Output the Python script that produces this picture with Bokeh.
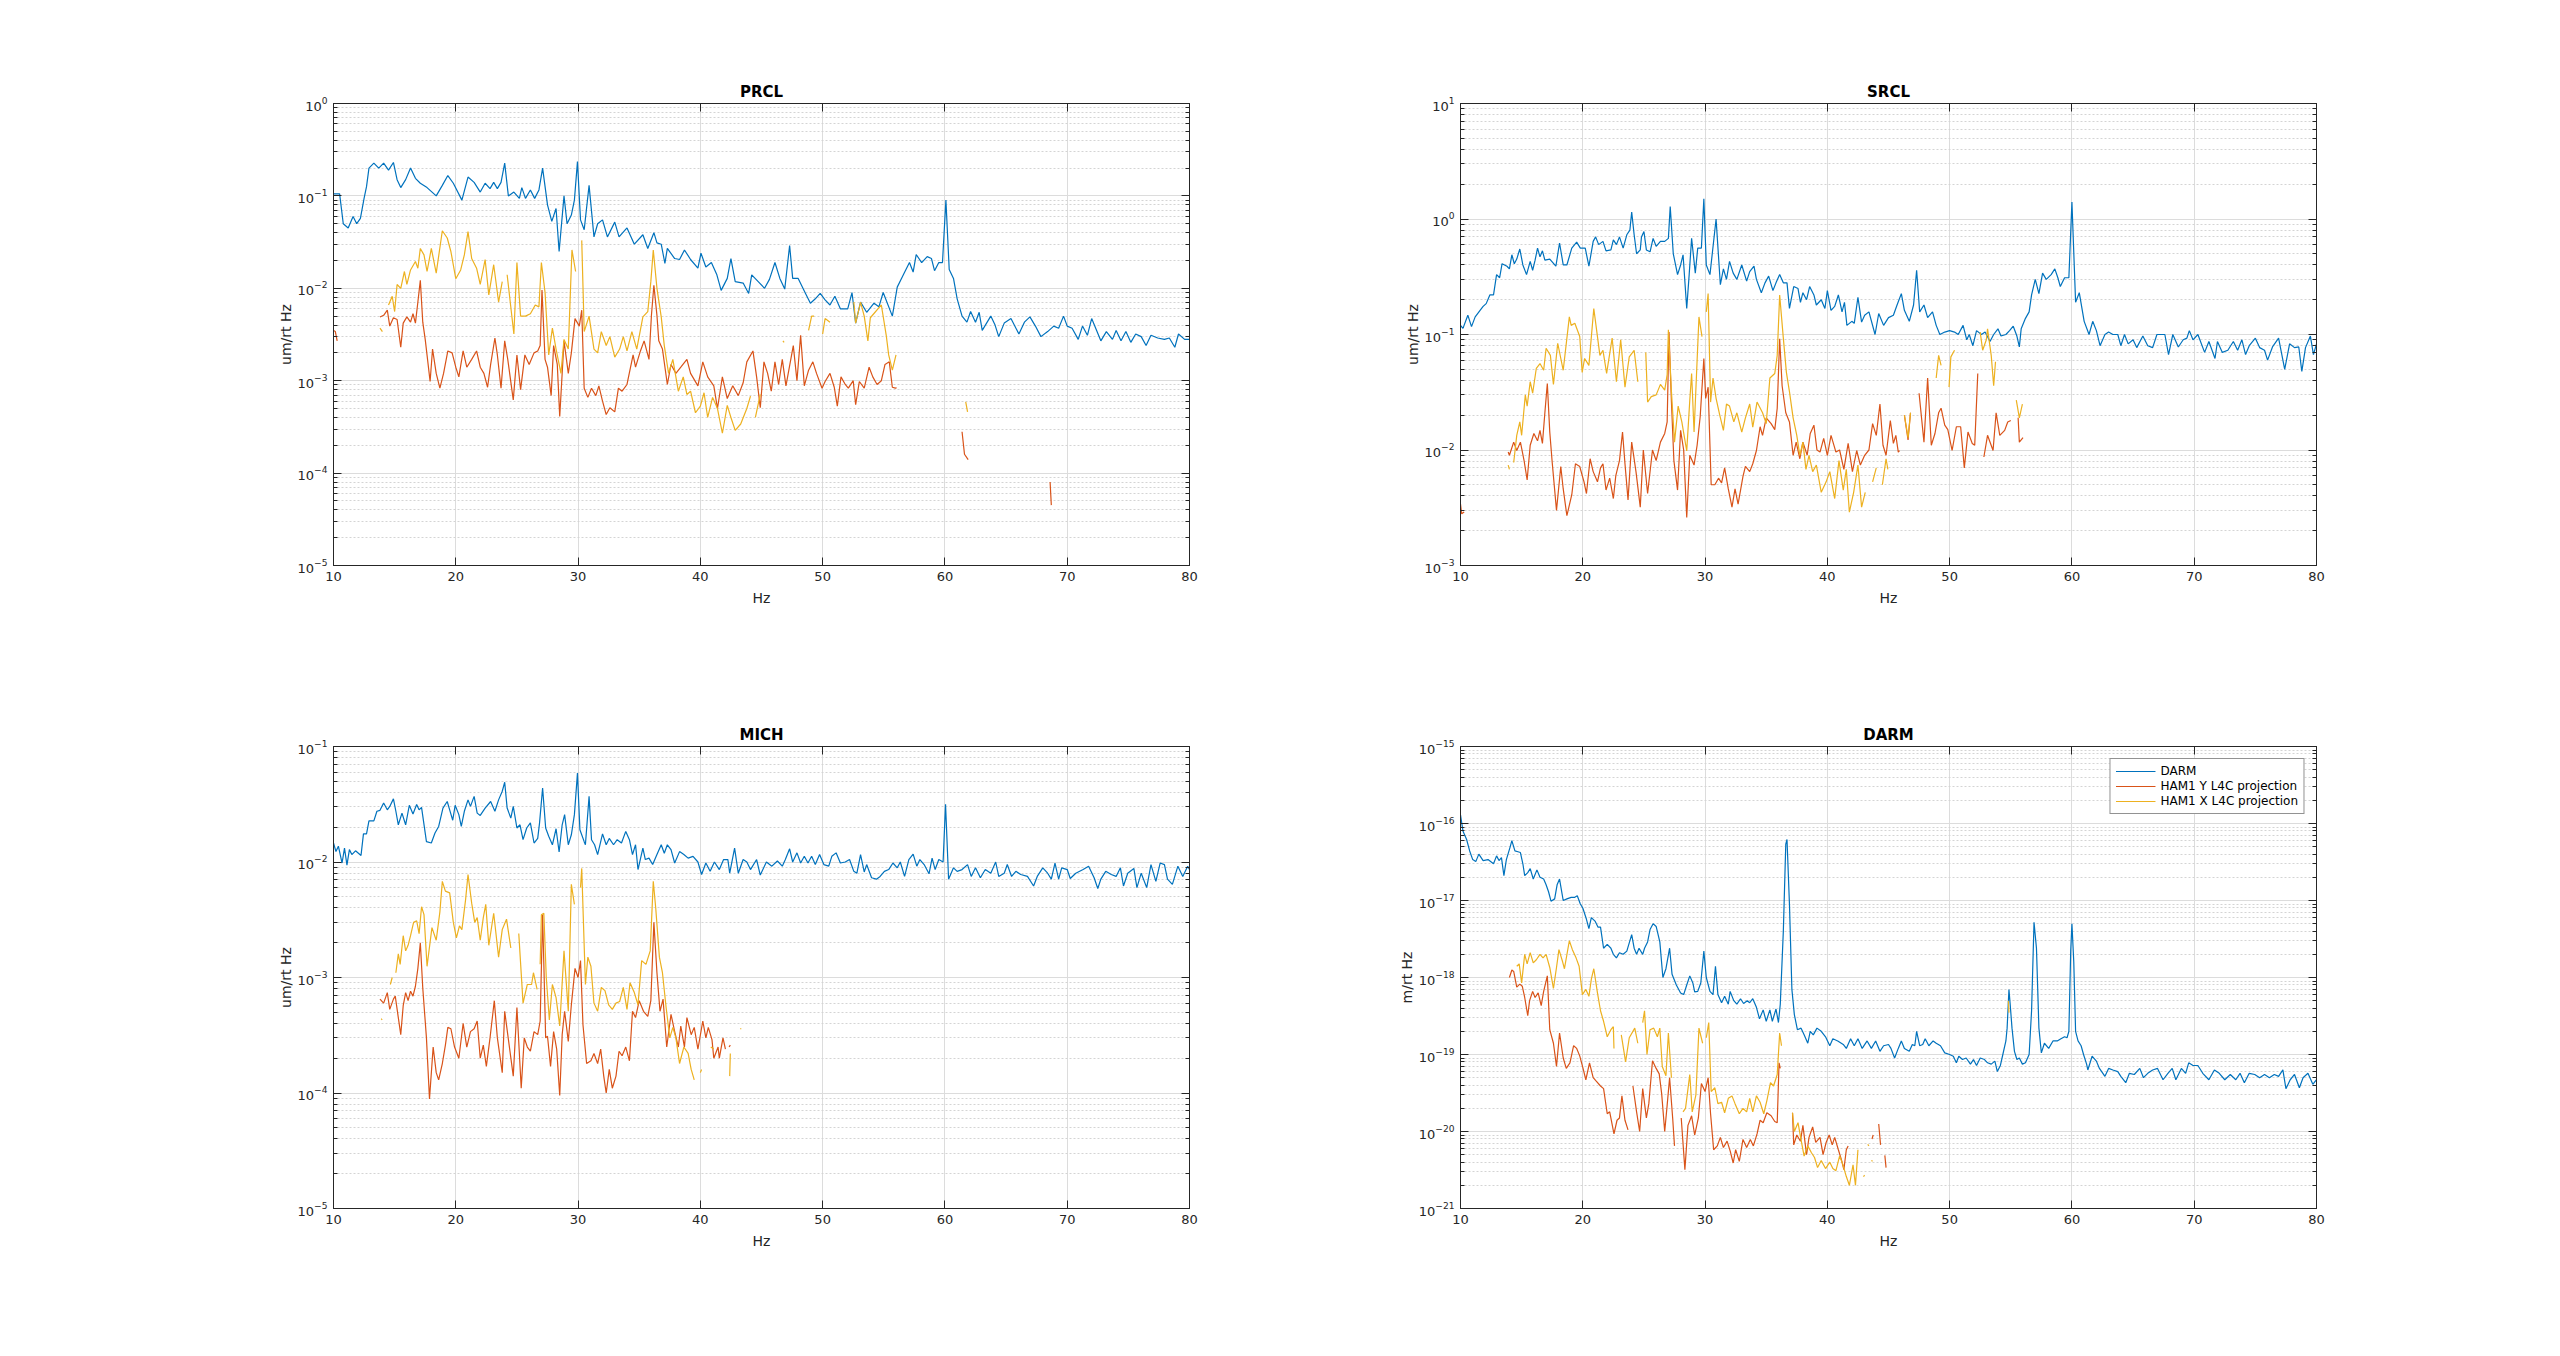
from bokeh.plotting import figure
from bokeh.models import Range1d, FixedTicker, LogTickFormatter, LogAxis, LinearAxis, Legend, LegendItem
from bokeh.layouts import column, row
from bokeh.embed import file_html
from bokeh.resources import INLINE

nan = float("nan")
G = (nan, nan)  # gap marker

# ---------------- data (Hz, amplitude) ----------------
x_tick_hz = [10, 20, 30, 40, 50, 60, 70, 80]
series_names = ["DARM", "HAM1 Y L4C projection", "HAM1 X L4C projection"]
panel_titles = ["PRCL", "SRCL", "MICH", "DARM"]
panel_ylabels = ["um/rt Hz", "um/rt Hz", "um/rt Hz", "m/rt Hz"]
panel_decades = [(-5, 0), (-3, 1), (-5, -1), (-21, -15)]

prcl_darm = [(10.0,0.105),(10.5,0.105),(10.8,0.05),(11.2,0.045),(11.6,0.06),(11.9,0.05),(12.2,0.057),(12.5,0.094),(12.7,0.126),(12.9,0.2),(13.3,0.226),(13.7,0.2),(14.1,0.226),(14.5,0.19),(14.9,0.23),(15.2,0.15),(15.5,0.123),(15.9,0.15),(16.3,0.2),(16.7,0.155),(17.1,0.137),(17.65,0.123),(18.4,0.1),(18.9,0.13),(19.35,0.166),(19.8,0.137),(20.5,0.09),(21.0,0.16),(21.5,0.14),(22.0,0.11),(22.4,0.137),(22.8,0.12),(23.1,0.14),(23.4,0.12),(23.7,0.14),(24.0,0.226),(24.3,0.1),(24.75,0.11),(25.2,0.094),(25.4,0.123),(25.7,0.094),(26.1,0.116),(26.45,0.094),(26.8,0.116),(27.1,0.2),(27.5,0.08),(27.85,0.053),(28.2,0.073),(28.45,0.025),(28.85,0.1),(29.1,0.05),(29.45,0.062),(29.7,0.09),(29.95,0.235),(30.2,0.055),(30.5,0.043),(30.9,0.13),(31.3,0.036),(31.6,0.05),(32.0,0.055),(32.4,0.036),(33.0,0.052),(33.35,0.036),(34.0,0.045),(34.6,0.03),(35.3,0.038),(35.7,0.027),(36.2,0.04),(36.45,0.031),(36.8,0.03),(37.1,0.0186),(37.3,0.027),(37.9,0.021),(38.3,0.0205),(38.7,0.026),(39.2,0.0205),(39.8,0.0165),(40.05,0.024),(40.45,0.017),(40.9,0.019),(41.35,0.014),(41.7,0.0095),(42.2,0.0128),(42.5,0.021),(42.85,0.0118),(43.5,0.0114),(43.95,0.0088),(44.2,0.014),(44.85,0.0114),(45.25,0.01),(45.65,0.0125),(46.1,0.019),(46.5,0.0128),(46.9,0.0098),(47.3,0.029),(47.55,0.0128),(48.0,0.0128),(48.6,0.0088),(49.0,0.0069),(49.4,0.0077),(49.8,0.0088),(50.2,0.0075),(50.6,0.0066),(51.0,0.0082),(51.45,0.006),(52.05,0.006),(52.4,0.009),(52.7,0.0042),(53.1,0.0071),(53.6,0.0055),(54.2,0.0069),(54.6,0.0063),(54.95,0.009),(55.7,0.005),(56.1,0.0103),(56.6,0.014),(57.1,0.019),(57.4,0.015),(57.65,0.0232),(58.1,0.019),(58.55,0.022),(58.9,0.021),(59.15,0.0155),(59.5,0.019),(59.8,0.019),(60.08,0.09),(60.35,0.016),(60.7,0.0128),(61.0,0.0077),(61.4,0.005),(61.8,0.0043),(62.1,0.0056),(62.5,0.0043),(62.8,0.0055),(63.05,0.0035),(63.75,0.005),(64.1,0.004),(64.4,0.003),(64.85,0.0042),(65.4,0.0047),(66.05,0.0032),(66.5,0.0043),(66.95,0.0049),(67.4,0.0039),(67.85,0.003),(68.4,0.0034),(68.9,0.0039),(69.3,0.0037),(69.7,0.005),(70.0,0.0039),(70.4,0.0037),(70.9,0.0028),(71.25,0.0039),(71.65,0.0031),(72.0,0.0047),(72.75,0.0027),(73.2,0.0034),(73.7,0.0028),(74.0,0.0035),(74.4,0.0027),(74.8,0.0034),(75.2,0.0026),(75.6,0.0032),(76.05,0.003),(76.45,0.0024),(76.85,0.0031),(77.4,0.0029),(77.95,0.0028),(78.35,0.0029),(78.8,0.0023),(79.1,0.0032),(79.6,0.0028),(80.0,0.0028)]

prcl_ham1y = [(10.0,0.0035),(10.15,0.0034),(10.3,0.0027),G,(13.8,0.0049),(14.1,0.0051),(14.4,0.0058),(14.6,0.0039),(14.9,0.0048),(15.2,0.0046),(15.5,0.0023),(15.7,0.0042),(16.0,0.0049),(16.3,0.0043),(16.5,0.0053),(16.7,0.0042),(16.9,0.0071),(17.1,0.0122),(17.3,0.0043),(17.5,0.0028),(17.9,0.00098),(18.1,0.0022),(18.4,0.0012),(18.7,0.00083),(19.0,0.0012),(19.35,0.0021),(19.7,0.002),(20.0,0.0014),(20.25,0.0011),(20.6,0.0021),(20.9,0.0014),(21.3,0.0017),(21.7,0.0021),(22.0,0.0014),(22.3,0.0012),(22.6,0.00085),(22.85,0.0015),(23.2,0.0029),(23.4,0.0019),(23.7,0.00083),(24.0,0.0027),(24.25,0.0017),(24.7,0.00062),(25.0,0.0019),(25.3,0.0008),(25.65,0.0019),(26.0,0.0015),(26.4,0.002),(26.7,0.0021),(26.9,0.0024),(27.05,0.0096),(27.3,0.0017),(27.5,0.0014),(27.8,0.00069),(28.0,0.0024),(28.3,0.0015),(28.5,0.00041),(28.85,0.0027),(29.2,0.0012),(29.45,0.002),(29.75,0.0047),(30.1,0.0039),(30.3,0.0058),(30.5,0.00083),(30.8,0.00066),(31.1,0.00083),(31.45,0.00069),(31.7,0.00088),(32.0,0.0006),(32.3,0.00043),(32.6,0.00051),(33.0,0.00046),(33.3,0.00083),(33.6,0.00077),(34.0,0.00091),(34.5,0.0019),(34.7,0.0014),(35.1,0.0021),(35.4,0.0027),(35.8,0.0017),(36.0,0.0051),(36.2,0.0108),(36.45,0.0051),(36.6,0.0027),(36.9,0.0022),(37.3,0.00091),(37.6,0.0015),(38.0,0.0012),(38.4,0.0014),(38.9,0.0017),(39.2,0.0012),(39.8,0.00088),(40.2,0.0016),(40.6,0.0011),(41.1,0.00088),(41.4,0.0005),(41.8,0.0011),(42.2,0.00064),(42.65,0.00088),(43.1,0.00069),(43.5,0.00095),(43.8,0.0016),(44.3,0.0021),(44.6,0.0011),(44.9,0.00051),(45.2,0.0016),(45.5,0.0012),(45.8,0.00077),(46.1,0.0016),(46.4,0.00091),(46.7,0.0017),(47.0,0.00088),(47.6,0.0024),(47.9,0.001),(48.2,0.0031),(48.5,0.00088),(48.85,0.0013),(49.2,0.0016),(49.5,0.0012),(49.95,0.00083),(50.2,0.00098),(50.6,0.0012),(50.95,0.00085),(51.2,0.00053),(51.5,0.0011),(51.85,0.00091),(52.1,0.00083),(52.5,0.001),(52.7,0.00055),(53.0,0.00098),(53.4,0.00083),(53.8,0.0014),(54.1,0.0011),(54.45,0.00091),(54.8,0.001),(55.1,0.0015),(55.45,0.0016),(55.7,0.00085),(55.95,0.00083),(56.05,0.00084),G,(61.4,0.00028),(61.6,0.00016),(61.9,0.00014),G,(68.6,0.00008),(68.7,0.000045)]

prcl_ham1x = [(13.8,0.0037),(14.0,0.0034),G,(14.5,0.0066),(14.8,0.0082),(15.0,0.0056),(15.2,0.011),(15.5,0.01),(15.8,0.0152),(16.0,0.011),(16.3,0.0158),(16.7,0.0195),(16.9,0.0165),(17.1,0.027),(17.4,0.023),(17.65,0.0152),(18.0,0.027),(18.4,0.0146),(18.9,0.042),(19.3,0.035),(19.6,0.025),(20.0,0.0127),(20.4,0.0158),(20.7,0.023),(21.0,0.041),(21.3,0.021),(21.7,0.0165),(22.0,0.011),(22.4,0.0205),(22.7,0.0085),(23.1,0.018),(23.5,0.0071),(23.8,0.0118),G,(24.2,0.014),(24.75,0.0032),(25.0,0.019),(25.3,0.005),(25.7,0.005),(26.1,0.0053),(26.5,0.0066),(26.8,0.0063),(27.0,0.019),(27.3,0.009),(27.6,0.0019),(27.9,0.0037),(28.2,0.0022),(28.6,0.0012),(28.85,0.0028),(29.2,0.0022),(29.5,0.026),(29.8,0.0152),G,(30.3,0.033),(30.5,0.0034),(30.9,0.005),(31.3,0.0022),(31.6,0.002),(31.9,0.0034),(32.3,0.0024),(32.6,0.003),(33.0,0.0018),(33.4,0.0022),(33.7,0.003),(34.0,0.0021),(34.4,0.0034),(34.8,0.0022),(35.3,0.0049),(35.7,0.0056),(35.95,0.0118),(36.15,0.026),(36.45,0.01),(36.8,0.0049),(37.05,0.0024),(37.4,0.0012),(37.75,0.0017),(38.2,0.00077),(38.6,0.0011),(38.9,0.00071),(39.2,0.00077),(39.6,0.00045),(40.0,0.00053),(40.3,0.00074),(40.6,0.0004),(41.0,0.00066),(41.4,0.0005),(41.8,0.00027),(42.2,0.00054),(42.5,0.0004),(42.85,0.00029),(43.3,0.00034),(43.8,0.0005),(44.1,0.00068),G,(44.5,0.0004),(44.9,0.00071),G,(46.75,0.0027),(46.85,0.0026),G,(48.85,0.0035),(49.1,0.005),(49.3,0.005),G,(50.0,0.0032),(50.2,0.0047),(50.6,0.0043),G,(52.55,0.0071),(52.7,0.0042),(53.1,0.0071),(53.4,0.005),(53.7,0.0027),(53.9,0.0048),(54.8,0.0066),(55.2,0.0031),(55.4,0.0019),(55.7,0.0013),(56.0,0.0019),G,(61.7,0.00059),(61.85,0.00046)]

srcl_darm = [(10.0,0.12),(10.2,0.113),(10.6,0.147),(10.9,0.117),(11.2,0.142),(11.6,0.162),(11.85,0.175),(12.1,0.185),(12.4,0.22),(12.7,0.22),(12.95,0.33),(13.2,0.31),(13.4,0.41),(13.8,0.39),(14.0,0.37),(14.2,0.49),(14.4,0.41),(14.6,0.45),(14.85,0.55),(15.1,0.4),(15.4,0.33),(15.7,0.43),(15.9,0.36),(16.1,0.44),(16.3,0.56),(16.5,0.47),(16.7,0.53),(16.9,0.44),(17.3,0.45),(17.8,0.39),(18.1,0.62),(18.4,0.4),(18.7,0.4),(19.1,0.56),(19.5,0.63),(19.8,0.56),(20.2,0.56),(20.5,0.39),(20.85,0.64),(21.05,0.7),(21.3,0.6),(21.65,0.64),(21.9,0.53),(22.3,0.54),(22.5,0.66),(22.75,0.6),(23.0,0.7),(23.3,0.56),(23.6,0.73),(23.85,0.8),(24.0,1.15),(24.2,0.73),(24.4,0.5),(24.7,0.54),(24.8,0.7),(25.0,0.78),(25.2,0.54),(25.5,0.52),(25.75,0.68),(26.0,0.58),(26.35,0.64),(26.7,0.64),(27.0,0.68),(27.15,1.28),(27.4,0.5),(27.75,0.33),(28.0,0.4),(28.2,0.49),(28.5,0.168),(28.7,0.33),(28.9,0.68),(29.2,0.34),(29.4,0.56),(29.7,0.56),(29.9,1.5),(30.1,0.4),(30.4,0.33),(30.9,1.0),(31.25,0.27),(31.5,0.37),(31.75,0.3),(32.0,0.43),(32.3,0.34),(32.6,0.3),(33.0,0.4),(33.4,0.29),(33.65,0.35),(34.0,0.39),(34.2,0.3),(34.6,0.23),(34.9,0.28),(35.2,0.32),(35.55,0.24),(35.8,0.28),(36.1,0.33),(36.4,0.28),(36.7,0.28),(36.9,0.168),(37.25,0.26),(37.6,0.25),(37.8,0.19),(38.0,0.23),(38.3,0.2),(38.55,0.26),(38.9,0.22),(39.1,0.18),(39.5,0.2),(39.8,0.168),(40.0,0.24),(40.3,0.162),(40.6,0.175),(40.9,0.22),(41.2,0.157),(41.4,0.19),(41.6,0.12),(42.0,0.13),(42.2,0.125),(42.5,0.21),(42.8,0.128),(43.05,0.147),(43.4,0.157),(43.9,0.1),(44.2,0.152),(44.6,0.12),(45.0,0.14),(45.4,0.147),(45.7,0.18),(46.05,0.226),(46.3,0.162),(46.7,0.13),(47.05,0.18),(47.3,0.36),(47.55,0.157),(47.9,0.18),(48.2,0.14),(48.6,0.157),(48.9,0.12),(49.2,0.1),(49.6,0.105),(50.0,0.108),(50.4,0.105),(50.7,0.1),(51.1,0.12),(51.4,0.09),(51.6,0.1),(51.9,0.08),(52.2,0.108),(52.6,0.1),(52.9,0.105),(53.3,0.087),(53.6,0.1),(53.95,0.112),(54.2,0.097),(54.6,0.1),(54.9,0.108),(55.2,0.118),(55.5,0.097),(55.7,0.078),(55.85,0.112),(56.2,0.138),(56.5,0.157),(56.7,0.22),(57.0,0.3),(57.3,0.226),(57.6,0.34),(57.9,0.3),(58.3,0.33),(58.6,0.37),(58.85,0.31),(59.05,0.26),(59.4,0.31),(59.75,0.31),(60.0,1.4),(60.3,0.19),(60.6,0.23),(61.0,0.13),(61.4,0.1),(61.7,0.13),(62.0,0.108),(62.3,0.08),(62.7,0.1),(63.0,0.105),(63.35,0.1),(63.75,0.1),(64.0,0.08),(64.3,0.1),(64.6,0.083),(65.0,0.09),(65.3,0.077),(65.8,0.097),(66.2,0.08),(66.6,0.077),(66.95,0.1),(67.3,0.1),(67.6,0.1),(67.9,0.067),(68.25,0.1),(68.7,0.078),(69.1,0.09),(69.4,0.093),(69.6,0.108),(69.9,0.09),(70.3,0.1),(70.85,0.07),(71.2,0.087),(71.7,0.062),(71.9,0.087),(72.3,0.07),(72.75,0.073),(73.2,0.087),(73.55,0.073),(73.9,0.09),(74.2,0.067),(74.5,0.08),(75.0,0.093),(75.35,0.077),(75.75,0.073),(76.0,0.06),(76.4,0.078),(76.9,0.093),(77.4,0.05),(77.8,0.083),(78.2,0.077),(78.55,0.078),(78.8,0.048),(79.1,0.077),(79.5,0.097),(79.75,0.067),(80.0,0.083)]

srcl_ham1y = [(10.0,0.0034),(10.1,0.0028),(10.3,0.0029),G,(13.9,0.0096),(14.0,0.009),(14.35,0.0117),(14.6,0.0099),(14.9,0.0117),(15.2,0.0081),(15.45,0.0055),(15.7,0.011),(16.0,0.0139),(16.3,0.012),(16.5,0.0148),(16.7,0.0114),(16.9,0.021),(17.1,0.0376),(17.3,0.0143),(17.5,0.0078),(17.85,0.003),(18.2,0.0072),(18.4,0.0046),(18.7,0.0027),(19.1,0.0041),(19.4,0.0076),(19.75,0.0072),(20.1,0.0053),(20.3,0.0042),(20.6,0.0084),(20.85,0.0065),(21.2,0.0053),(21.45,0.007),(21.65,0.0076),(21.9,0.0045),(22.2,0.0057),(22.5,0.0038),(22.7,0.006),(23.0,0.0081),(23.25,0.0143),(23.45,0.0076),(23.7,0.0037),(24.0,0.0117),(24.35,0.0065),(24.7,0.0032),(24.95,0.01),(25.3,0.0042),(25.7,0.01),(26.0,0.0081),(26.35,0.0117),(26.7,0.0139),(26.9,0.0175),(27.05,0.105),(27.25,0.026),(27.45,0.0081),(27.75,0.0045),(28.0,0.0148),(28.25,0.01),(28.5,0.0026),(28.75,0.009),(29.1,0.0074),(29.35,0.011),(29.6,0.0194),(29.9,0.062),(30.05,0.028),(30.25,0.035),(30.5,0.005),(30.8,0.005),(31.1,0.0057),(31.35,0.0052),(31.6,0.007),(31.9,0.0046),(32.2,0.0032),(32.45,0.0046),(32.7,0.0034),(33.1,0.0059),(33.3,0.0072),(33.65,0.0065),(33.9,0.0076),(34.2,0.0099),(34.5,0.0159),(34.7,0.0134),(35.0,0.019),(35.4,0.0169),(35.7,0.015),(35.9,0.023),(36.1,0.092),(36.3,0.036),(36.6,0.021),(36.9,0.0175),(37.2,0.009),(37.45,0.0117),(37.75,0.0084),(38.0,0.0117),(38.35,0.009),(38.6,0.0139),(38.9,0.0164),(39.15,0.01),(39.4,0.0096),(39.7,0.0126),(40.0,0.009),(40.3,0.0134),(40.7,0.0096),(41.0,0.01),(41.35,0.0068),(41.7,0.0114),(42.05,0.0065),(42.4,0.0099),(42.7,0.0074),(43.05,0.009),(43.4,0.01),(43.7,0.0169),(44.0,0.0134),(44.3,0.025),(44.55,0.011),(44.8,0.009),(45.15,0.018),(45.4,0.0114),(45.6,0.0134),(45.8,0.0096),(45.9,0.0099),G,(46.3,0.02),(46.6,0.0122),(46.8,0.021),G,(47.5,0.031),(47.9,0.0117),(48.2,0.042),(48.5,0.011),(48.8,0.0139),(49.1,0.021),(49.3,0.023),(49.6,0.0164),(49.85,0.015),(50.2,0.0099),(50.55,0.0159),(50.9,0.0159),(51.2,0.007),(51.5,0.0143),(51.85,0.0114),(52.05,0.011),(52.3,0.046),G,(52.8,0.0087),(53.1,0.0134),(53.55,0.0099),(53.8,0.021),(54.1,0.0134),(54.5,0.0148),(54.75,0.0175),(55.0,0.018),G,(55.6,0.019),(55.7,0.0117),(56.0,0.0128)]

srcl_ham1x = [(13.9,0.0074),(14.0,0.0068),G,(14.35,0.0078),(14.6,0.0134),(14.85,0.0175),(15.0,0.0134),(15.3,0.03),(15.45,0.024),(15.7,0.039),(15.9,0.031),(16.2,0.051),(16.5,0.056),(16.8,0.049),(17.0,0.076),(17.35,0.066),(17.6,0.037),(17.95,0.084),(18.4,0.049),(18.9,0.142),(19.05,0.12),(19.35,0.125),(19.75,0.096),(19.95,0.047),(20.15,0.062),(20.5,0.054),(20.9,0.168),(21.2,0.096),(21.4,0.066),(21.65,0.073),(21.95,0.046),(22.4,0.093),(22.75,0.039),(23.1,0.09),(23.45,0.035),(23.8,0.064),(24.2,0.073),(24.5,0.039),G,(25.15,0.07),(25.3,0.026),(25.6,0.029),(26.0,0.03),(26.35,0.037),(26.7,0.033),(26.9,0.045),(27.0,0.11),(27.25,0.032),(27.5,0.0117),(27.8,0.024),(28.1,0.0175),(28.5,0.0098),(28.75,0.027),(28.9,0.046),(29.1,0.0143),(29.3,0.045),(29.5,0.142),(29.75,0.096),G,(30.1,0.157),(30.25,0.226),(30.45,0.026),(30.65,0.042),(30.9,0.028),(31.2,0.02),(31.5,0.0148),(31.75,0.025),(32.0,0.024),(32.35,0.0175),(32.6,0.021),(33.0,0.0143),(33.3,0.019),(33.65,0.025),(33.9,0.0158),(34.25,0.026),(34.7,0.021),(35.0,0.0169),(35.3,0.042),(35.7,0.046),(35.9,0.066),(36.1,0.22),(36.4,0.093),(36.65,0.047),(36.9,0.032),(37.2,0.019),(37.5,0.0134),(37.75,0.009),(38.0,0.0117),(38.25,0.0068),(38.5,0.009),(38.8,0.0065),(39.1,0.0074),(39.5,0.0043),(39.9,0.0053),(40.2,0.0065),(40.6,0.0038),(40.95,0.0081),(41.3,0.0045),(41.55,0.0068),(41.8,0.0029),(42.15,0.0043),(42.5,0.0074),(42.8,0.0032),(43.1,0.0043),G,(43.7,0.0053),(44.0,0.007),G,(44.5,0.005),(44.8,0.0084),(44.95,0.0068),G,(46.3,0.02),(46.6,0.0128),(46.8,0.021),G,(48.9,0.042),(49.1,0.066),(49.3,0.054),G,(49.95,0.035),(50.1,0.064),(50.4,0.073),G,(52.5,0.105),(52.7,0.073),(53.0,0.09),(53.1,0.112),(53.4,0.066),(53.6,0.036),(53.75,0.058),G,(55.45,0.027),(55.7,0.019),(55.95,0.025)]

mich_darm = [(10.0,0.0146),(10.2,0.0123),(10.4,0.0137),(10.7,0.0098),(10.9,0.0132),(11.1,0.0094),(11.3,0.0128),(11.5,0.0116),(11.8,0.0125),(12.25,0.0114),(12.45,0.0175),(12.7,0.0175),(12.9,0.0227),(13.3,0.0227),(13.55,0.0275),(13.8,0.028),(14.1,0.0324),(14.4,0.0283),(14.6,0.0303),(14.9,0.0352),(15.1,0.0275),(15.3,0.021),(15.6,0.0265),(15.9,0.021),(16.2,0.031),(16.5,0.026),(16.8,0.0315),(17.0,0.0283),(17.2,0.0297),(17.6,0.015),(18.0,0.0146),(18.3,0.0178),(18.6,0.0203),(18.95,0.0293),(19.3,0.0334),(19.5,0.0283),(19.75,0.023),(19.95,0.031),(20.25,0.0257),(20.45,0.0203),(20.7,0.0275),(21.0,0.0345),(21.2,0.0303),(21.5,0.037),(21.75,0.0265),(22.0,0.0253),(22.4,0.0293),(22.85,0.0334),(23.2,0.0275),(23.5,0.0345),(23.8,0.041),(24.0,0.049),(24.2,0.0293),(24.5,0.024),(24.7,0.0303),(25.0,0.0197),(25.25,0.021),(25.5,0.0156),(25.8,0.0197),(26.1,0.0218),(26.4,0.0146),(26.7,0.016),(26.85,0.0218),(27.1,0.0437),(27.35,0.0197),(27.6,0.0167),(27.9,0.0141),(28.2,0.0194),(28.45,0.0122),(28.7,0.021),(28.9,0.0257),(29.2,0.0141),(29.45,0.0172),(29.7,0.0257),(29.95,0.0588),(30.15,0.019),(30.5,0.015),(30.6,0.0141),(30.9,0.037),(31.1,0.0156),(31.35,0.0141),(31.6,0.0116),(32.0,0.0175),(32.3,0.0141),(32.55,0.016),(32.9,0.0141),(33.2,0.0156),(33.55,0.0146),(33.9,0.0184),(34.2,0.0156),(34.45,0.0116),(34.7,0.0141),(34.9,0.0086),(35.3,0.0132),(35.5,0.0105),(35.8,0.0108),(36.1,0.0095),(36.45,0.0116),(36.8,0.0141),(37.05,0.0119),(37.3,0.0141),(37.6,0.0128),(37.9,0.0098),(38.3,0.0123),(38.65,0.0116),(39.0,0.0108),(39.4,0.0112),(39.8,0.01),(40.1,0.0078),(40.45,0.0098),(40.8,0.0083),(41.15,0.01),(41.55,0.0086),(41.9,0.0105),(42.25,0.0105),(42.4,0.008),(42.8,0.0132),(43.1,0.008),(43.5,0.0105),(43.8,0.01),(44.1,0.0086),(44.6,0.0105),(44.9,0.0077),(45.4,0.01),(45.85,0.0092),(46.3,0.0102),(46.7,0.0092),(46.95,0.0105),(47.3,0.013),(47.55,0.01),(47.9,0.012),(48.2,0.0098),(48.5,0.0112),(48.8,0.0098),(49.1,0.0112),(49.4,0.0095),(49.75,0.0116),(50.1,0.0095),(50.5,0.0092),(50.75,0.0112),(51.1,0.012),(51.45,0.0098),(51.85,0.01),(52.2,0.0105),(52.55,0.0083),(52.8,0.008),(53.1,0.0116),(53.4,0.0082),(53.6,0.0095),(54.0,0.0073),(54.4,0.0071),(54.7,0.0075),(55.05,0.0083),(55.4,0.0086),(55.75,0.0098),(56.1,0.0089),(56.35,0.01),(56.7,0.0075),(57.05,0.0105),(57.4,0.0117),(57.7,0.0092),(57.95,0.0105),(58.3,0.0095),(58.7,0.0079),(58.95,0.0108),(59.2,0.0086),(59.5,0.0105),(59.85,0.01),(60.05,0.0316),(60.3,0.0071),(60.7,0.0089),(61.0,0.0083),(61.4,0.0086),(61.85,0.0095),(62.15,0.0075),(62.5,0.0089),(62.9,0.0073),(63.3,0.0086),(63.75,0.008),(64.15,0.01),(64.4,0.0075),(64.85,0.008),(65.1,0.0095),(65.45,0.0075),(65.8,0.0083),(66.2,0.0078),(66.75,0.0075),(67.25,0.0062),(67.55,0.0075),(68.0,0.0089),(68.4,0.008),(68.7,0.0071),(69.0,0.0098),(69.3,0.0071),(69.55,0.0089),(70.0,0.0086),(70.25,0.0072),(70.7,0.008),(71.3,0.0086),(71.75,0.0092),(72.2,0.0073),(72.5,0.0059),(72.75,0.0071),(73.15,0.0083),(73.6,0.0078),(74.0,0.0075),(74.35,0.0089),(74.6,0.0062),(74.95,0.008),(75.45,0.0088),(75.7,0.006),(76.05,0.008),(76.5,0.006),(76.85,0.0095),(77.25,0.0068),(77.6,0.0098),(77.95,0.0095),(78.2,0.0071),(78.6,0.0064),(79.05,0.0092),(79.45,0.0075),(79.85,0.0092),(80.0,0.0086)]

mich_ham1y = [(13.8,0.00065),(14.1,0.0006),(14.4,0.00074),(14.6,0.00053),(14.9,0.00065),(15.05,0.00069),(15.3,0.00045),(15.5,0.00032),(15.7,0.00057),(15.9,0.00074),(16.1,0.00063),(16.3,0.00076),(16.5,0.00069),(16.7,0.00084),(16.9,0.0012),(17.1,0.002),(17.3,0.00081),(17.6,0.0003),(17.85,0.000089),(18.15,0.00025),(18.4,0.00015),(18.6,0.00013),(18.9,0.00018),(19.15,0.00026),(19.35,0.00037),(19.6,0.00036),(19.9,0.00025),(20.25,0.0002),(20.6,0.0004),(20.9,0.00025),(21.2,0.00034),(21.5,0.00036),(21.75,0.00042),(22.0,0.0002),(22.25,0.00026),(22.5,0.00017),(22.8,0.0003),(23.15,0.00063),(23.4,0.0003),(23.8,0.00015),(24.0,0.00051),(24.25,0.00032),(24.7,0.00014),(25.0,0.00055),(25.35,0.00011),(25.6,0.0003),(25.85,0.00025),(26.1,0.00023),(26.4,0.00034),(26.7,0.00032),(26.9,0.00042),(27.1,0.0035),(27.35,0.0003),(27.5,0.00031),(27.75,0.00017),(28.0,0.00034),(28.25,0.00024),(28.5,0.000095),(28.7,0.00032),(28.9,0.00051),(29.2,0.00028),(29.45,0.00058),(29.75,0.0012),(30.0,0.001),(30.2,0.0014),(30.4,0.00039),(30.7,0.00018),(31.05,0.00019),(31.3,0.00022),(31.6,0.00018),(31.85,0.00024),(32.1,0.00014),(32.3,0.0001),(32.55,0.00016),(32.8,0.00011),(33.1,0.00014),(33.35,0.00023),(33.6,0.00021),(33.9,0.00025),(34.2,0.00019),(34.45,0.00051),(34.7,0.00045),(35.0,0.00063),(35.35,0.00051),(35.7,0.00046),(35.95,0.00063),(36.2,0.003),(36.45,0.0011),(36.7,0.00051),(36.95,0.00065),(37.25,0.00025),(37.6,0.00048),(37.9,0.00034),(38.2,0.00025),(38.4,0.00038),(38.7,0.00025),(38.9,0.00045),(39.25,0.00032),(39.5,0.00037),(39.8,0.00024),(40.2,0.00042),(40.45,0.0003),(40.65,0.00037),(40.95,0.00029),(41.1,0.0002),(41.45,0.00025),(41.55,0.0002),(41.85,0.0003),(42.05,0.00024),G,(42.35,0.00025),(42.45,0.00026)]

mich_ham1x = [(13.9,0.00044),(13.98,0.00043),G,(14.65,0.00087),(14.8,0.001),G,(15.1,0.0011),(15.3,0.0016),(15.45,0.0013),(15.7,0.0023),(15.9,0.0017),(16.1,0.0019),(16.3,0.0023),(16.55,0.003),(16.8,0.0031),(17.0,0.0024),(17.2,0.0041),(17.4,0.0035),(17.65,0.00125),(18.05,0.0027),(18.4,0.0021),(18.7,0.0037),(18.9,0.0068),(19.15,0.0056),(19.5,0.0054),(19.8,0.003),(20.05,0.0022),(20.3,0.0028),(20.5,0.0026),(20.8,0.0047),(21.0,0.0078),(21.3,0.0044),(21.55,0.003),(21.75,0.0033),(22.0,0.0021),(22.25,0.0033),(22.45,0.0043),(22.7,0.0019),(23.1,0.0036),(23.5,0.0015),(23.8,0.0026),(24.15,0.0032),(24.5,0.0018),G,(25.15,0.0024),(25.5,0.0006),(25.85,0.00087),(26.2,0.00087),(26.35,0.0011),(26.65,0.00079),G,(26.9,0.0013),(27.0,0.0035),(27.2,0.0036),(27.4,0.001),(27.65,0.00043),(27.9,0.00087),(28.2,0.00067),(28.5,0.00038),(28.85,0.0017),(29.2,0.00051),(29.45,0.0064),(29.7,0.0043),G,(30.2,0.006),(30.3,0.0088),(30.6,0.00087),(30.8,0.0015),(31.05,0.00125),(31.3,0.0006),(31.6,0.00051),(31.9,0.00082),(32.2,0.00077),(32.5,0.00058),(32.8,0.00053),(33.1,0.0006),(33.4,0.00062),(33.7,0.00082),(34.0,0.00053),(34.25,0.0009),(34.6,0.00074),(34.9,0.00058),(35.2,0.0014),(35.55,0.0013),(35.9,0.0017),(36.15,0.0068),(36.35,0.004),(36.65,0.0015),(36.9,0.0011),(37.2,0.00055),(37.5,0.0003),(37.75,0.00037),(38.0,0.0003),(38.3,0.00018),(38.65,0.00025),(39.0,0.00022),(39.25,0.00016),(39.5,0.00013),G,(40.0,0.00015),(40.1,0.00016),G,(40.85,0.00025),(41.1,0.00024),G,(42.4,0.00014),(42.45,0.00022),G,(43.25,0.00036),(43.35,0.00036)]

darm_darm = [(10.0,1.3e-16),(10.2,8e-17),(10.5,6.2e-17),(10.75,4.4e-17),(11.0,3.4e-17),(11.25,3.2e-17),(11.5,4e-17),(11.85,3.3e-17),(12.25,3.4e-17),(12.7,3e-17),(12.95,3.8e-17),(13.15,3.3e-17),(13.35,3.6e-17),(13.55,2.1e-17),(13.75,3.4e-17),(14.05,4.9e-17),(14.2,6e-17),(14.45,4.4e-17),(14.7,4.3e-17),(14.9,4.2e-17),(15.1,3e-17),(15.25,2.1e-17),(15.5,2.3e-17),(15.7,2.6e-17),(15.95,1.9e-17),(16.25,2.5e-17),(16.5,2e-17),(16.8,1.9e-17),(17.0,1.6e-17),(17.2,1.3e-17),(17.4,9.8e-18),(17.7,1.05e-17),(17.9,1.6e-17),(18.1,1.9e-17),(18.4,1e-17),(18.7,1.05e-17),(19.05,1.1e-17),(19.35,1.1e-17),(19.55,1.15e-17),(19.8,9e-18),(20.0,8e-18),(20.3,5.7e-18),(20.5,4.3e-18),(20.7,6e-18),(21.0,5.4e-18),(21.25,4.5e-18),(21.45,4.5e-18),(21.7,2.4e-18),(22.0,2.7e-18),(22.3,2.4e-18),(22.5,2e-18),(22.75,1.8e-18),(23.0,2.1e-18),(23.3,2e-18),(23.6,2.2e-18),(24.0,3.6e-18),(24.2,2.4e-18),(24.4,2e-18),(24.6,2.4e-18),(24.9,2e-18),(25.05,2.4e-18),(25.3,2.9e-18),(25.5,4.2e-18),(25.75,5e-18),(26.0,4.6e-18),(26.3,2.9e-18),(26.55,1e-18),(26.8,1.3e-18),(27.1,2.4e-18),(27.3,1.1e-18),(27.65,8e-19),(28.0,6.3e-19),(28.25,6e-19),(28.5,8e-19),(28.75,1.05e-18),(29.0,8.5e-19),(29.15,6.5e-19),(29.4,6.6e-19),(29.65,8.5e-19),(29.9,2.2e-18),(30.1,1e-18),(30.4,6.6e-19),(30.65,6e-19),(30.85,1.4e-18),(31.05,6e-19),(31.35,4.7e-19),(31.6,5.7e-19),(31.9,4.5e-19),(32.05,6.6e-19),(32.35,5e-19),(32.6,4.5e-19),(32.9,5.3e-19),(33.15,4.6e-19),(33.45,5e-19),(33.65,4.7e-19),(33.9,5.3e-19),(34.2,4.1e-19),(34.45,2.9e-19),(34.75,3.8e-19),(35.0,2.7e-19),(35.3,3.8e-19),(35.5,2.7e-19),(35.8,3.9e-19),(36.0,2.6e-19),(36.15,4.5e-19),(36.4,4e-18),(36.6,5.4e-17),(36.7,6.2e-17),(36.9,9e-18),(37.1,7e-19),(37.3,3.3e-19),(37.55,2.1e-19),(37.85,2.2e-19),(38.1,1.8e-19),(38.4,1.4e-19),(38.6,2e-19),(38.85,1.8e-19),(39.15,2.2e-19),(39.5,2e-19),(39.85,1.7e-19),(40.2,1.3e-19),(40.45,1.6e-19),(40.85,1.5e-19),(41.3,1.35e-19),(41.55,1.2e-19),(41.9,1.6e-19),(42.2,1.3e-19),(42.5,1.6e-19),(42.85,1.2e-19),(43.25,1.5e-19),(43.6,1.2e-19),(43.95,1.5e-19),(44.3,1.1e-19),(44.6,1.3e-19),(45.0,1.35e-19),(45.2,1.2e-19),(45.5,9e-20),(45.8,1.2e-19),(46.05,1.5e-19),(46.3,1.2e-19),(46.7,1.1e-19),(46.95,1.35e-19),(47.15,1.3e-19),(47.3,2e-19),(47.55,1.3e-19),(47.8,1.35e-19),(48.0,1.6e-19),(48.3,1.3e-19),(48.65,1.5e-19),(48.9,1.4e-19),(49.25,1.3e-19),(49.6,1.05e-19),(50.0,1e-19),(50.3,9.5e-20),(50.55,7.8e-20),(50.75,9.5e-20),(51.05,8.6e-20),(51.35,9e-20),(51.7,7.5e-20),(51.95,8.6e-20),(52.2,7.2e-20),(52.5,9e-20),(52.85,8.6e-20),(53.1,7.8e-20),(53.4,7.5e-20),(53.7,8.2e-20),(53.9,6e-20),(54.15,7.2e-20),(54.35,1e-19),(54.6,1.5e-19),(54.7,2.2e-19),(54.85,7e-19),(54.95,4.5e-19),(55.1,2.2e-19),(55.3,1.1e-19),(55.5,8.6e-20),(55.7,9e-20),(55.95,7.5e-20),(56.2,7.8e-20),(56.5,1e-19),(56.7,3.7e-19),(56.9,5.2e-18),(57.1,2.4e-18),(57.3,2.2e-19),(57.5,1.05e-19),(57.75,1.4e-19),(58.1,1.2e-19),(58.45,1.5e-19),(58.8,1.5e-19),(59.1,1.6e-19),(59.4,1.7e-19),(59.6,1.65e-19),(59.75,2e-19),(59.9,2.2e-18),(60.0,5e-18),(60.15,1.6e-18),(60.3,2e-19),(60.5,1.5e-19),(60.75,1.3e-19),(60.95,1e-19),(61.2,7.5e-20),(61.3,6.3e-20),(61.65,9.5e-20),(62.0,8.2e-20),(62.25,6.6e-20),(62.7,5.2e-20),(63.0,6.6e-20),(63.35,6.3e-20),(63.75,6e-20),(64.0,5.2e-20),(64.4,4.3e-20),(64.7,5.7e-20),(65.1,5.5e-20),(65.55,6.6e-20),(65.85,5e-20),(66.2,5.7e-20),(66.6,6.3e-20),(67.0,6.6e-20),(67.45,4.7e-20),(67.85,5.7e-20),(68.2,6.6e-20),(68.5,4.7e-20),(68.95,6.6e-20),(69.3,5.7e-20),(69.55,7.8e-20),(69.9,7.2e-20),(70.3,7.2e-20),(70.7,5.7e-20),(71.2,4.7e-20),(71.65,6.3e-20),(72.05,5.7e-20),(72.5,4.7e-20),(72.95,5.5e-20),(73.4,4.7e-20),(73.75,5.7e-20),(74.1,4.3e-20),(74.5,5.7e-20),(74.95,5.5e-20),(75.35,5e-20),(75.75,5.5e-20),(76.15,5e-20),(76.55,5.5e-20),(76.9,5.2e-20),(77.25,6.3e-20),(77.5,3.6e-20),(77.85,4.7e-20),(78.2,5.5e-20),(78.6,3.7e-20),(78.9,5e-20),(79.3,5.7e-20),(79.7,4.1e-20),(80.0,4.7e-20)]

darm_ham1y = [(14.0,1e-18),(14.2,1.25e-18),(14.35,1.2e-18),(14.6,7.5e-19),(14.85,8.2e-19),(15.05,7.7e-19),(15.25,5.5e-19),(15.5,3.2e-19),(15.65,5e-19),(15.9,6.6e-19),(16.1,5.5e-19),(16.35,6.3e-19),(16.6,4.3e-19),(16.8,6.6e-19),(17.1,1.05e-18),(17.3,2.1e-19),(17.6,1.4e-19),(17.85,7e-20),(18.1,1.9e-19),(18.4,9e-20),(18.65,6.6e-20),(18.95,7.8e-20),(19.25,1.3e-19),(19.5,1.2e-19),(19.75,9.6e-20),(20.0,6.8e-20),(20.25,4.7e-20),(20.55,7.8e-20),(20.85,5e-20),(21.1,4.5e-20),(21.45,3.9e-20),(21.7,3.6e-20),(22.0,1.7e-20),(22.2,1.8e-20),(22.55,9.3e-21),(22.8,1.4e-20),(23.0,1.5e-20),(23.2,2.9e-20),(23.45,1.4e-20),(23.7,1.05e-20),G,(24.1,3.9e-20),(24.4,1.8e-20),(24.65,1e-20),(24.9,3.6e-20),(25.2,1.5e-20),(25.4,2.3e-20),(25.7,8.3e-20),(26.0,6.6e-20),(26.25,5.6e-20),(26.45,3.1e-20),(26.7,1e-20),(26.9,2.2e-20),(27.1,5e-20),(27.35,1.5e-20),(27.5,6.5e-21),G,(28.05,1.5e-20),(28.35,3.2e-21),(28.6,1.2e-20),(28.9,1.6e-20),(29.15,9e-21),(29.45,1.5e-20),(29.7,4.2e-20),(30.0,3.3e-20),(30.25,5e-20),(30.45,1.7e-20),(30.7,5.8e-21),(31.0,6.5e-21),(31.25,8.4e-21),(31.5,6.2e-21),(31.8,7.5e-21),(32.05,5.6e-21),(32.3,3.9e-21),(32.5,5.8e-21),(32.8,4.1e-21),(33.1,7.9e-21),(33.4,6.2e-21),(33.7,7.9e-21),(33.95,6.5e-21),(34.25,9.3e-21),(34.5,1.4e-20),(34.75,1.3e-20),(35.05,1.75e-20),(35.4,1.6e-20),(35.7,1.35e-20),(35.9,1.3e-20),(36.05,7.8e-20),(36.15,6.6e-20),G,(37.15,1.75e-20),(37.25,6.7e-21),(37.5,9e-21),(37.8,7.5e-21),(38.0,1.2e-20),(38.3,5e-21),(38.5,8.4e-21),(38.8,1.15e-20),(39.05,7.2e-21),(39.4,8.4e-21),(39.65,5e-21),(39.9,7.2e-21),(40.15,9e-21),(40.4,6.7e-21),(40.6,8.4e-21),(40.9,5.8e-21),(41.15,4.3e-21),(41.35,3.2e-21),(41.55,5.8e-21),(41.7,6.5e-21),G,(43.65,8e-21),(43.75,9e-21),G,(44.2,1.25e-20),(44.35,6.7e-21),G,(44.7,4.9e-21),(44.8,3.4e-21)]

darm_ham1x = [(14.6,1.4e-18),(14.8,1.5e-18),(15.0,8.5e-19),(15.25,2e-18),(15.45,1.5e-18),(15.7,2.1e-18),(15.95,1.55e-18),(16.2,1.7e-18),(16.5,2e-18),(16.75,1.8e-18),(17.0,2e-18),(17.3,1.35e-18),(17.6,7.2e-19),(17.85,1.35e-18),(18.05,2.3e-18),(18.35,1.6e-18),(18.5,1.3e-18),(18.9,3e-18),(19.15,2.3e-18),(19.45,1.8e-18),(19.7,1.4e-18),(19.97,6e-19),(20.25,7e-19),(20.5,5.7e-19),(20.7,9.5e-19),(20.9,1.3e-18),(21.2,6.3e-19),(21.45,3.7e-19),(21.7,2.7e-19),(22.0,1.7e-19),(22.3,2.1e-19),(22.5,2.3e-19),(22.55,1.2e-19),G,(23.15,1.8e-19),(23.5,8e-20),(23.8,1.65e-19),(24.25,2.2e-19),(24.5,1.4e-19),G,(24.9,2.6e-19),(25.05,3.7e-19),(25.25,1e-19),(25.5,2.1e-19),(25.8,2.2e-19),(26.1,1.7e-19),(26.3,2.2e-19),(26.5,7e-20),(26.8,5.3e-20),(27.0,1.9e-19),(27.25,5e-20),G,(28.2,1.8e-20),(28.4,2e-20),(28.75,5.5e-20),(28.95,1.8e-20),(29.25,3e-20),(29.5,2.2e-19),(29.8,1.4e-19),G,(30.1,1.65e-19),(30.3,2.6e-19),(30.5,3.3e-20),(30.8,3.7e-20),(31.05,2.3e-20),(31.35,2.4e-20),(31.6,1.75e-20),(31.9,2.7e-20),(32.2,2.9e-20),(32.45,2.3e-20),(32.8,1.7e-20),(33.1,2e-20),(33.4,1.8e-20),(33.65,2.7e-20),(33.9,1.8e-20),(34.2,2.9e-20),(34.5,2.4e-20),(34.8,1.7e-20),(35.05,2.5e-20),(35.35,4.3e-20),(35.6,3.9e-20),(35.9,5.5e-20),(36.1,1.9e-19),(36.25,1.3e-19),G,(37.15,1.75e-20),(37.3,1e-20),(37.6,1.3e-20),(37.85,7.8e-21),(38.1,4.8e-21),(38.4,6.5e-21),(38.7,5.3e-21),(38.95,4.6e-21),(39.2,3.4e-21),(39.5,4.2e-21),(39.85,3.3e-21),(40.2,4e-21),(40.45,3.3e-21),(40.7,3.1e-21),(41.0,4.8e-21),(41.25,3.8e-21),(41.55,2.6e-21),(41.8,2e-21),(42.1,3.7e-21),(42.3,2e-21),(42.5,5.8e-21),G,(42.95,2.6e-21),(43.05,2.7e-21),G,(43.3,6.8e-21),(43.4,6.5e-21),G,(43.6,4.2e-21),(43.7,4.1e-21),G,(54.8,5e-19),(54.85,3.5e-19)]

panel_series = [
    (prcl_darm, prcl_ham1y, prcl_ham1x),
    (srcl_darm, srcl_ham1y, srcl_ham1x),
    (mich_darm, mich_ham1y, mich_ham1x),
    (darm_darm, darm_ham1y, darm_ham1x),
]

# ---------------- styling ----------------
COLORS = ["#0072BD", "#D95319", "#EDB120"]
AX = "#262626"
FONT = "DejaVu Sans"
FW, FH = 856, 462


def style_axis(ax, labels=True):
    ax.axis_line_color = AX
    ax.major_tick_line_color = AX
    ax.minor_tick_line_color = AX
    ax.major_tick_in = 8
    ax.major_tick_out = 0
    ax.minor_tick_in = 4
    ax.minor_tick_out = 0
    ax.major_label_text_font = FONT
    ax.major_label_standoff = 6
    ax.major_label_text_font_size = "13px"
    if labels:
        ax.major_label_text_color = AX
    else:
        ax.major_label_text_color = None
        ax.major_label_text_font_size = "2px"
        ax.major_label_standoff = 0


def make_panel(idx, mb_left, mb_top, legend=False):
    lo, hi = panel_decades[idx]
    y_major = [10.0 ** e for e in range(lo, hi + 1)]
    y_minor = [k * 10.0 ** e for e in range(lo, hi) for k in range(2, 10)]
    p = figure(frame_width=FW, frame_height=FH,
               x_range=Range1d(10, 80), y_range=Range1d(10.0 ** lo, 10.0 ** hi),
               y_axis_type="log", output_backend="svg", toolbar_location=None,
               min_border_left=mb_left, min_border_right=20,
               min_border_top=mb_top, min_border_bottom=90,
               background_fill_color="white", border_fill_color="white")
    xt = FixedTicker(ticks=x_tick_hz)
    yt = FixedTicker(ticks=y_major, minor_ticks=y_minor)
    p.xaxis.ticker = xt
    p.yaxis.ticker = yt
    p.yaxis.formatter = LogTickFormatter()
    p.xgrid.ticker = xt
    p.ygrid.ticker = yt
    style_axis(p.xaxis[0])
    style_axis(p.yaxis[0])
    p.xaxis.minor_tick_line_color = None
    p.xaxis.axis_label = "Hz"
    p.yaxis.axis_label = panel_ylabels[idx]
    for ax in (p.xaxis[0], p.yaxis[0]):
        ax.axis_label_text_font = FONT
        ax.axis_label_text_font_size = "14px"
        ax.axis_label_text_font_style = "normal"
        ax.axis_label_text_color = AX
    p.xaxis.axis_label_standoff = 6
    p.yaxis.axis_label_standoff = 1

    right = LogAxis(ticker=yt, formatter=LogTickFormatter())
    style_axis(right, labels=False)
    p.add_layout(right, "right")
    top = LinearAxis(ticker=xt)
    style_axis(top, labels=False)
    top.minor_tick_line_color = None
    p.add_layout(top, "above")

    p.xgrid.grid_line_color = "#dcdcdc"
    p.ygrid.grid_line_color = "#dcdcdc"
    p.ygrid.minor_grid_line_color = "#d4d4d4"
    p.ygrid.minor_grid_line_dash = "2 2"
    p.outline_line_color = AX
    p.outline_line_width = 1
    p.outline_line_alpha = 1

    p.title.text = panel_titles[idx]
    p.title.align = "center"
    p.title.text_font = FONT
    p.title.text_font_size = "15px"
    p.title.text_font_style = "bold"
    p.title.text_color = "#000000"
    p.title.standoff = 5

    rends = []
    for pairs, col in zip(panel_series[idx], COLORS):
        f = [a for a, b in pairs]
        v = [b for a, b in pairs]
        rends.append(p.line(f, v, line_color=col, line_width=1.2))

    if legend:
        lg = Legend(items=[LegendItem(label=n, renderers=[r]) for n, r in zip(series_names, rends)],
                    location="top_right")
        lg.border_line_color = AX
        lg.border_line_width = 1
        lg.background_fill_color = "white"
        lg.background_fill_alpha = 1
        lg.label_text_font = FONT
        lg.label_text_font_size = "12px"
        lg.label_text_color = "#000000"
        lg.glyph_width = 40
        lg.glyph_height = 14
        lg.label_height = 14
        lg.label_standoff = 5
        lg.spacing = 1
        lg.padding = 5
        lg.margin = 12
        p.add_layout(lg)
    return p


p1 = make_panel(0, 333, 103)
p2 = make_panel(1, 251, 103)
p3 = make_panel(2, 333, 91)
p4 = make_panel(3, 251, 91, legend=True)

layout = column(row(p1, p2), row(p3, p4))
open("out.html", "w").write(file_html(layout, INLINE))
